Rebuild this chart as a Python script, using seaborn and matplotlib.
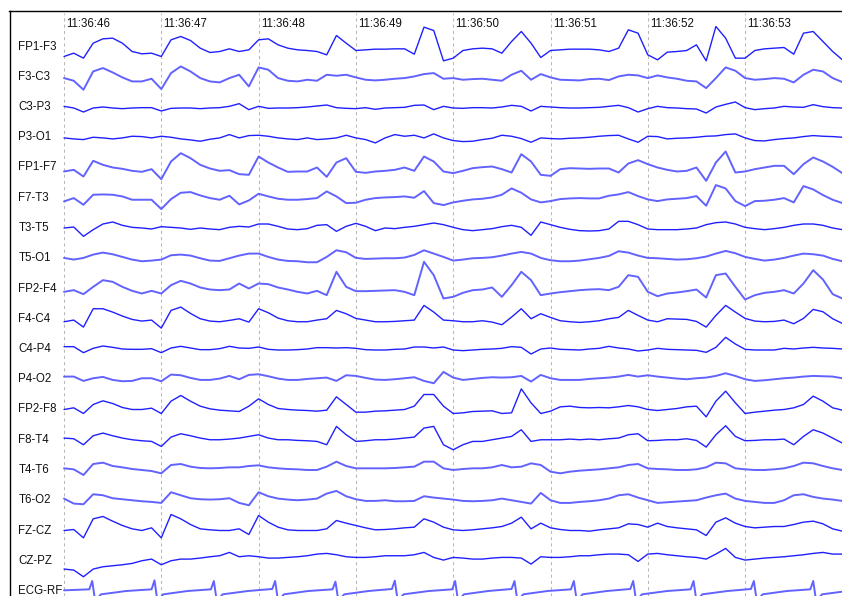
import numpy as np
import pandas as pd
import matplotlib
matplotlib.use("Agg")
import matplotlib.pyplot as plt
import seaborn as sns

# bipolar montage, top to bottom
channels = ["FP1-F3", "F3-C3", "C3-P3", "P3-O1", "FP1-F7", "F7-T3", "T3-T5", "T5-O1",
            "FP2-F4", "F4-C4", "C4-P4", "P4-O2", "FP2-F8", "F8-T4", "T4-T6", "T6-O2",
            "FZ-CZ", "CZ-PZ", "ECG-RF"]
time_labels = ["11:36:46", "11:36:47", "11:36:48", "11:36:49",
               "11:36:50", "11:36:51", "11:36:52", "11:36:53"]

# samples every 0.1 s from 11:36:46.0 to 11:36:54.0 (values in uV, up = positive)
t = np.round(np.arange(81) * 0.1, 1)

fp1_f3 = [-30, -20, -35, 10, 23, 25, 10, -15, -22, -20,
          -30, 20, 30, 18, -5, -18, -15, -7, -15, -10,
          20, 23, 5, -5, -10, -12, -15, -25, 33, 10,
          -12, -10, -8, -8, -7, -7, -23, 58, 48, -43,
          -35, -12, -7, -5, -7, -20, 15, 45, 10, -33,
          -12, -10, -8, -8, -8, -10, -15, -5, 50, 40,
          -25, -40, -17, -15, -12, 5, -43, 60, 25, -35,
          -35, -12, -7, -5, -3, -23, 40, 45, 15, -15, -40]
f3_c3 = [-4, -12, -39, 16, 26, 13, -2, -14, -14, -6,
         -37, 11, 31, 16, -4, -14, -17, -4, 6, -29,
         28, 21, -4, -12, -14, -9, -12, 6, 3, 6,
         -2, -9, -11, -9, -6, -4, 1, 8, 11, -6,
         -4, -9, -7, -6, -9, -12, 6, 18, -9, 8,
         -2, -9, -10, -11, -7, -6, -10, 1, 6, 4,
         -4, 4, -2, -6, -12, -14, -34, -4, 28, 18,
         -4, -9, -7, -4, -6, -17, 6, 21, 16, -4, -16]
c3_p3 = [2, -3, -15, -3, 0, -3, -5, -3, -2, -2,
         -12, -4, -3, -3, -5, -3, -2, 2, 10, -8,
         2, -4, -3, -3, -2, 0, 3, 6, -2, -4,
         -5, -2, -7, -3, -2, -1, 5, 6, -8, 2,
         -3, -4, -2, -2, -3, 0, 5, 2, -12, 2,
         0, -2, -3, -3, -2, -1, 2, 5, -2, -15,
         -5, 2, -2, -3, -5, -6, -18, 0, 8, 15,
         -2, -8, -5, -3, 2, 0, -1, 7, 1, -2, -3]
p3_o1 = [-2, -5, -7, 0, -2, -5, -2, 3, 2, -2,
         3, 0, -5, -8, -12, -6, -2, 8, -2, 5,
         6, 3, -2, -5, -7, -2, -7, -5, -2, 6,
         -2, -7, -17, -2, 8, 3, 6, -2, 10, -2,
         -10, -13, -12, -7, -3, 6, 3, -4, -15, -2,
         -4, -5, -3, -2, 0, 3, 5, 6, -5, -15,
         3, 2, -5, -3, -2, 0, 3, 4, 8, 10,
         -2, -10, -11, -7, -4, -2, 2, 5, 3, 2, 0]
fp1_f7 = [-12, -7, -27, 20, 8, 0, -4, -10, -13, -5,
          -35, 18, 43, 28, 8, -3, -10, -8, -20, -22,
          33, 15, 0, -13, -12, -12, 0, -28, 15, 28,
          -13, -16, -12, -10, -7, 0, -10, 33, 18, -12,
          -17, -10, -2, 1, 3, -5, -15, 40, 18, -22,
          -25, -5, -2, -3, -4, -3, -3, -15, 12, 22,
          10, 0, -7, -12, -10, 0, -40, 15, 48, -15,
          -12, -5, 0, 5, 5, -20, 10, 30, 18, 2, -17]
f7_t3 = [-11, -1, -21, 9, 10, 9, 4, -6, -6, -6,
         -34, -4, 15, 17, 7, -1, -6, 6, -20, -8,
         12, 4, -3, -6, -6, -4, -1, 19, 4, -16,
         -15, -6, -1, 1, 2, 4, 0, 20, -16, -22,
         -14, -9, -5, -3, 1, 9, 28, 15, -5, -14,
         -10, -4, -2, -1, -2, -2, 6, 10, 17, 5,
         -5, -10, -5, -3, -1, 5, -24, 38, 28, -10,
         -25, -10, -9, -6, -1, -14, 35, 25, 8, -6, -16]
t3_t5 = [0, 3, -25, -5, 12, 18, 8, 2, 0, -3,
         4, 2, 0, -4, 0, -3, -5, 2, 5, 3,
         12, 12, 5, -3, -5, -2, 8, 10, -10, 5,
         14, 5, -8, 0, -2, 2, 5, 10, 15, 10,
         2, -5, -8, -5, -2, 4, 8, 2, -22, 18,
         10, 2, -4, -8, -9, -8, -3, 20, 20, 10,
         -3, -5, -5, -5, -3, 0, 10, 16, 18, 12,
         2, -2, -5, -2, 2, 8, 12, 12, 8, 0, -5]
t5_o1 = [1, -4, 1, 11, 17, 12, 4, -4, -9, -7,
         -4, 9, 11, 8, 0, -7, -8, 0, 8, 14,
         14, 4, -4, -8, -9, -12, -12, 4, 24, 18,
         1, -2, -1, 0, 0, 2, 10, 24, 14, 4,
         -7, -4, 0, 1, 3, 8, 14, 19, 14, 1,
         -6, -9, -9, -7, -3, 1, 7, 21, 17, 8,
         1, 0, -2, -4, -3, 0, 5, 14, 22, 15,
         4, -2, -7, -4, 1, 8, 14, 12, 8, -2, -9]
fp2_f4 = [-10, -5, -17, 5, 25, 20, 5, -7, -15, -7,
          -15, 10, 23, 15, 3, -3, -5, -3, 15, 0,
          15, 13, 3, -3, -10, -15, -7, -20, 50, 5,
          -8, -8, -7, -6, -5, -10, -20, 80, 40, -30,
          -25, -13, -5, -3, 3, -25, 10, 50, 25, -20,
          -15, -11, -8, -5, -3, -2, -5, 5, 40, 35,
          -10, -23, -15, -12, -8, -3, -27, 40, 45, 5,
          -33, -20, -13, -10, -5, -15, 15, 55, 27, -17, -30]
f4_c4 = [-9, -4, -25, 30, 30, 20, 8, -2, -7, -4,
         -28, 25, 35, 16, 0, -7, -9, -5, 0, -10,
         30, 18, 2, -6, -9, -9, -4, 0, 25, 15,
         1, -4, -9, -9, -8, -6, -4, 40, 20, -4,
         -6, -9, -9, -6, -10, -18, 5, 30, 0, 15,
         4, -6, -9, -11, -9, -6, 0, 4, 25, 10,
         -4, -9, 0, -1, -2, -8, -25, 10, 40, 20,
         1, -7, -9, -8, -4, -15, 1, 28, 21, 0, -14]
c4_p4 = [7, 7, -11, 2, 9, 5, 0, -1, -1, 1,
         -11, 3, 8, 3, -2, -2, 1, 8, 3, 2,
         6, -1, -3, -3, -2, 0, 4, 4, 3, 4,
         2, -2, -3, -3, -1, 0, 6, 6, 3, 6,
         -3, -5, -3, -1, 0, 2, 7, 5, -15, 0,
         3, -1, -2, -3, 0, 2, 8, 3, 0, -6,
         -3, 2, -1, -2, -3, -4, -10, 5, 35, 15,
         -1, -3, -3, -3, 2, 0, 3, 5, 3, 2, 0]
p4_o2 = [8, 8, -5, 3, 7, -2, -6, -5, 3, 3,
         -6, 14, 12, 4, -2, -2, 2, 10, 0, 13,
         15, 9, 2, -2, -2, 1, 3, 5, -5, 12,
         10, 4, -1, -2, 0, 3, 6, -5, -12, 22,
         5, -2, 1, 4, 6, 5, 6, 10, -7, 13,
         3, -2, -2, -2, 1, 3, 5, 8, 13, 8,
         12, 8, 5, 2, 0, 3, 5, 10, 18, 10,
         0, -5, -3, 0, 3, 5, 8, 10, 9, 8, 3]
fp2_f8 = [0, 5, -12, 15, 26, 18, 6, 0, 0, 4,
          -12, 25, 42, 25, 10, 2, -2, -4, -6, 10,
          32, 15, 3, 0, -2, -3, -5, -2, 38, 15,
          -8, -8, -5, -4, -2, 0, 10, 45, 45, 10,
          -12, -10, -6, -5, -4, -12, -10, 62, 20, -12,
          -5, 8, 10, 6, 5, 6, 5, 8, 12, 8,
          0, -3, 0, 3, 8, 10, -22, 25, 55, 20,
          -12, -8, -5, -2, 0, 5, 15, 40, 25, 5, -2]
f8_t4 = [5, 3, -15, 12, 20, 12, 5, 0, -3, -5,
         -20, 8, 18, 12, 5, 0, 0, 2, 5, 10,
         15, 5, 0, 0, -2, -3, -5, -15, 40, 15,
         -5, -3, 0, 0, 2, 5, 8, 35, 40, -15,
         -30, -15, -5, -5, 0, 5, 10, 30, -5, 0,
         0, 0, 2, 0, 2, 0, 3, 5, 15, 18,
         -3, -2, 0, 0, 3, -2, -22, 15, 42, 10,
         -3, -2, 0, 0, 2, -15, 10, 30, 20, 5, -10]
t4_t6 = [5, 2, -15, 18, 22, 12, 8, 3, 0, -3,
         -10, 15, 18, 10, 6, 5, 6, 8, 8, 12,
         14, 8, 5, 3, 2, 0, 0, 10, 25, 12,
         5, 5, 5, 5, 6, 8, 10, 25, 25, 5,
         0, 3, 5, 5, 8, 15, 8, 10, 20, 15,
         -5, -10, -5, -2, 0, 2, 5, 8, 15, 18,
         5, 3, 2, 0, 0, 2, 8, 22, 20, 5,
         2, 0, 0, 2, 5, 12, 22, 20, 12, 5, 0]
t6_o2 = [5, -10, -12, 18, 15, 6, 3, 0, -3, -5,
         -8, 24, 15, 6, 3, 2, 3, 6, -8, -15,
         24, 12, 5, 2, 0, 2, 5, 20, 28, 12,
         3, -2, -2, 0, -3, -3, -2, 12, 8, 5,
         2, -2, -3, -2, 0, 5, 0, -5, -10, 22,
         0, -8, -8, -5, -3, 0, 5, 15, 18, 8,
         0, -8, -6, -4, -2, 0, 8, 15, 20, 5,
         -2, -5, -8, -8, 0, 15, 18, 10, 5, 2, -2]
fz_cz = [0, 3, -22, 35, 42, 28, 15, 5, 0, 8,
         -22, 48, 35, 18, 5, 2, 0, 0, 5, -12,
         45, 25, 10, 2, 0, 0, 0, 5, 30, 22,
         15, 8, 2, 3, 5, 8, 10, 35, 25, 10,
         2, 0, 2, 5, 8, 12, 22, 40, 5, 22,
         8, 3, 0, 0, -2, 2, 5, 8, 20, 18,
         10, 22, 12, 8, 5, 2, -15, 25, 38, 22,
         12, 8, 10, 12, 12, 18, 25, 28, 20, 5, -2]
cz_pz = [-25, -28, -48, -25, -18, -15, -12, -8, 0, 5,
         -12, 0, 5, 5, 8, 12, 15, 25, 12, 15,
         12, 8, 8, 10, 12, 15, 20, 22, 18, 12,
         10, 10, 12, 15, 15, 15, 18, 25, 10, 2,
         10, 8, 5, 5, 8, 10, 10, 8, -10, 12,
         10, 10, 12, 15, 15, 18, 20, 20, 18, -2,
         20, 22, 18, 15, 12, 10, 5, 20, 37, 10,
         2, 5, 8, 10, 12, 15, 18, 22, 25, 20, 20]

# ECG read as vertices (R waves are too narrow for the 0.1 s grid)
ecg_t = [0.00, 0.26, 0.29, 0.32, 0.38, 0.64, 0.90, 0.93, 0.96, 1.02, 1.27,
         1.51, 1.54, 1.57, 1.63, 1.89, 2.14, 2.17, 2.20, 2.26, 2.51,
         2.76, 2.79, 2.82, 2.88, 3.13, 3.37, 3.40, 3.43, 3.49, 3.75,
         3.99, 4.02, 4.05, 4.11, 4.36, 4.60, 4.63, 4.66, 4.72, 4.97,
         5.21, 5.24, 5.27, 5.33, 5.58, 5.82, 5.85, 5.88, 5.94, 6.20,
         6.44, 6.47, 6.50, 6.56, 6.82, 7.06, 7.09, 7.12, 7.18, 7.43,
         7.67, 7.70, 7.73, 7.79, 8.00]
ecg_v = [2, 5, 30, -30, -10, 0, 5, 32, -30, -10, 0,
         5, 30, -30, -10, 0, 6, 30, -30, -10, 0,
         5, 28, -30, -10, 0, 6, 31, -30, -10, 0,
         5, 30, -30, -10, 0, 6, 30, -30, -10, 0,
         5, 30, -30, -10, 0, 6, 30, -30, -10, 0,
         5, 30, -30, -10, 0, 6, 30, -30, -10, 0,
         5, 30, -30, -10, -2]

eeg = [fp1_f3, f3_c3, c3_p3, p3_o1, fp1_f7, f7_t3, t3_t5, t5_o1,
       fp2_f4, f4_c4, c4_p4, p4_o2, fp2_f8, f8_t4, t4_t6, t6_o2, fz_cz, cz_pz]

# screen geometry (pixels)
W, H = 842, 596
LEFT, TOP = 9.5, 10.5
X0, PX_PER_S = 64, 97.3
ROW0, ROW_STEP = 46.5, 30.25
GAIN = 1 / 3  # px per uV

frames = []
for i, vals in enumerate(eeg):
    frames.append(pd.DataFrame({"t": t, "y": ROW0 + ROW_STEP * i - np.array(vals) * GAIN,
                                "ch": channels[i]}))
frames.append(pd.DataFrame({"t": ecg_t, "y": ROW0 + ROW_STEP * 18 - np.array(ecg_v) * GAIN,
                            "ch": "ECG-RF"}))
df = pd.concat(frames, ignore_index=True)

dark, light = "#2020ff", "#6262ff"
light_rows = {"F3-C3", "FP1-F7", "F7-T3", "T5-O1", "FP2-F4", "P4-O2", "T4-T6", "T6-O2", "ECG-RF"}
palette = {c: (light if c in light_rows else dark) for c in channels}
sizes = {c: (1.4 if c in light_rows else 1.0) for c in channels}

sns.set_style("white")
plt.rcParams["font.family"] = ["Liberation Sans", "DejaVu Sans"]

fig = plt.figure(figsize=(W / 100, H / 100), dpi=100)
ax = fig.add_axes([LEFT / W, 0, 1 - LEFT / W, 1 - TOP / H])

# one-second grid
for s in range(8):
    ax.vlines(s, H, 13, colors="#b8b8b8", linestyles=(0, (3, 3)), linewidth=0.75, zorder=1)
    ax.text(s + 2.3 / PX_PER_S, 24, time_labels[s], fontsize=8.3, color="#111111",
            ha="left", va="center")

sns.lineplot(data=df, x="t", y="y", hue="ch", size="ch", palette=palette, sizes=sizes,
             legend=False, sort=False, estimator=None, ax=ax, zorder=3)

for i, name in enumerate(channels):
    ax.text((18.3 - X0) / PX_PER_S, ROW0 + ROW_STEP * i, name, fontsize=8.3,
            color="#111111", ha="left", va="center", zorder=2)

ax.set_xlim((LEFT - X0) / PX_PER_S, (W - X0) / PX_PER_S)
ax.set_ylim(H, TOP)
ax.set_xticks([])
ax.set_yticks([])
ax.set_xlabel("")
ax.set_ylabel("")
sns.despine(ax=ax, top=False, right=True, left=False, bottom=True)
for side in ("top", "left"):
    ax.spines[side].set_color("black")
    ax.spines[side].set_linewidth(1.0)

fig.savefig("out.png", dpi=100, facecolor="white")
